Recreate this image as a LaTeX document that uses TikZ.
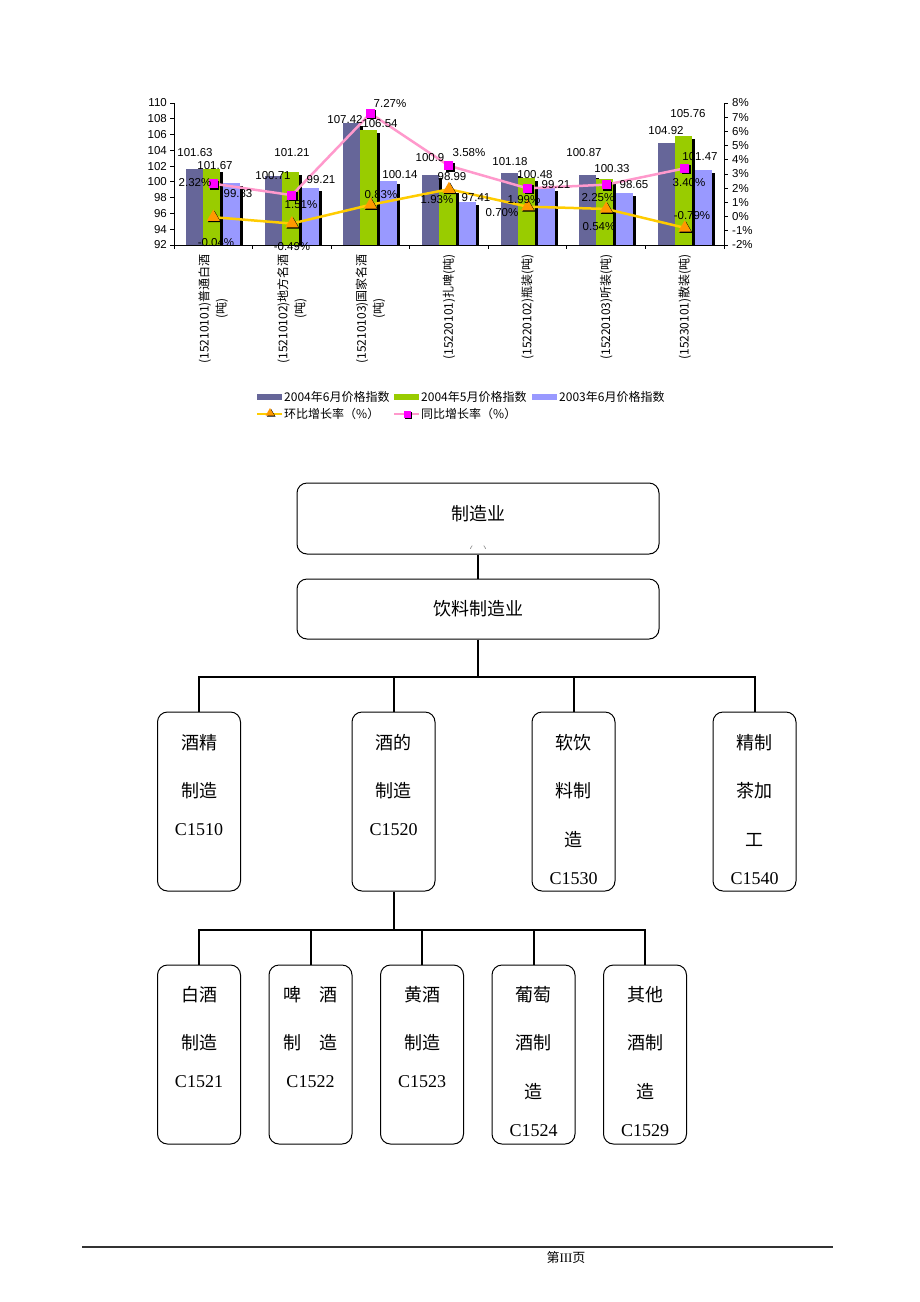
\documentclass[tikz,border=0pt]{standalone}
\usepackage{fontspec}
\setmainfont{Liberation Serif}
\newfontfamily\zhfont{Noto Sans CJK SC}
\newfontfamily\arialfont{Liberation Sans}
\usetikzlibrary{positioning, shapes.geometric, shadows}

\definecolor{barsix}{HTML}{666699}
\definecolor{barfive}{HTML}{99CC00}
\definecolor{barold}{HTML}{9999FF}
\definecolor{hbline}{HTML}{FFCC00}
\definecolor{hbmark}{HTML}{FF9900}
\definecolor{tbline}{HTML}{FF99CC}
\definecolor{tbmark}{HTML}{FF00FF}

\begin{document}
\begin{tikzpicture}[x=1pt, y=-1pt,
    numlbl/.style={font=\arialfont\fontsize{11.5}{13}\selectfont, inner sep=0pt},
    catlbl/.style={font=\zhfont\fontsize{12}{17}\selectfont, rotate=90, anchor=east, align=center, inner sep=0pt},
    leglbl/.style={font=\zhfont\fontsize{12}{14}\selectfont, anchor=west, inner sep=0pt},
    axisline/.style={draw=black, line width=0.8pt},
    hbtri/.style={regular polygon, regular polygon sides=3, inner sep=0pt, minimum size=15pt, fill=hbmark,
        drop shadow={shadow xshift=1.2pt, shadow yshift=-1.2pt, fill=black, opacity=1}},
    tbsq/.style={rectangle, inner sep=0pt, minimum size=9pt, fill=tbmark,
        drop shadow={shadow xshift=1.5pt, shadow yshift=-1.5pt, fill=black, opacity=1}},
    widebox/.style={draw, rounded corners=10pt, line width=1pt, minimum width=362pt},
    unitbox/.style={draw, rounded corners=10pt, line width=1pt, minimum width=83pt, minimum height=179pt},
    zh/.style={font=\zhfont\fontsize{18}{20}\selectfont, inner sep=0pt},
    codetxt/.style={font=\fontsize{18}{20}\selectfont, inner sep=0pt},
    conn/.style={draw=black, line width=2pt}]

\fill[white] (0,0) rectangle (920,1302);
\useasboundingbox (0,0) rectangle (920,1302);

% chart: bars and data points
\foreach \a/\b/\c/\p/\q [count=\i] in {
    101.63/101.67/99.83/-0.04/2.32,
    100.71/101.21/99.21/-0.49/1.51,
    107.42/106.54/100.14/0.83/7.27,
    100.9/98.99/97.41/1.93/3.58,
    101.18/100.48/99.21/0.70/1.99,
    100.87/100.33/98.65/0.54/2.25,
    104.92/105.76/101.47/-0.79/3.40}
{
    \pgfmathsetmacro{\cx}{174+(\i-0.5)*78.57}
    \pgfmathsetmacro{\ya}{245-(\a-92)*7.889}
    \pgfmathsetmacro{\yb}{245-(\b-92)*7.889}
    \pgfmathsetmacro{\yc}{245-(\c-92)*7.889}
    \fill[black] ({\cx-24},{\ya+3}) rectangle ({\cx-7},245);
    \fill[barsix] ({\cx-27},\ya) rectangle ({\cx-10},245);
    \fill[black] ({\cx-7},{\yb+3}) rectangle ({\cx+10},245);
    \fill[barfive] ({\cx-10},\yb) rectangle ({\cx+7},245);
    \fill[black] ({\cx+13},{\yc+3}) rectangle ({\cx+30},245);
    \fill[barold] ({\cx+10},\yc) rectangle ({\cx+27},245);
    \coordinate (hb\i) at (\cx,{245-(\p+2)*14.2});
    \coordinate (tb\i) at (\cx,{245-(\q+2)*14.2});
}

% axes
\draw[axisline] (174,103) -- (174,245) -- (724,245) -- (724,103);
\foreach \v [count=\k] in {92,94,...,110} {
    \pgfmathsetmacro{\yy}{245-(\v-92)*7.889}
    \draw[axisline] (170,\yy) -- (174,\yy);
    \node[numlbl, anchor=east] (yl\k) at (167,\yy) {\v};
}
\foreach \v [count=\k] in {-2,...,8} {
    \pgfmathsetmacro{\yy}{245-(\v+2)*14.2}
    \draw[axisline] (724,\yy) -- (728,\yy);
    \node[numlbl, anchor=west] (yr\k) at (732,\yy) {\v\%};
}
\foreach \k in {0,...,7}
    \draw[axisline] ({174+78.57*\k},245) -- ({174+78.57*\k},249);

% rate lines
\draw[hbline, line width=2.5pt] (hb1) \foreach \i in {2,...,7} {-- (hb\i)};
\draw[tbline, line width=2.5pt] (tb1) \foreach \i in {2,...,7} {-- (tb\i)};
\foreach \i in {1,...,7} {
    \node[hbtri] (hbm\i) at (hb\i) {};
    \node[tbsq] (tbm\i) at (tb\i) {};
}

% data labels
\foreach \x/\y/\t [count=\k] in {
    195/153/101.63, 215/166/101.67, 195/183/2.32\%, 238/194/99.83, 216/243/-0.04\%,
    273/176/100.71, 292/153/101.21, 321/180/99.21, 301/205/1.51\%, 292/247/-0.49\%,
    345/120/107.42, 380/124/106.54, 390/104/7.27\%, 400/175/100.14, 381/195/0.83\%,
    430/158/100.9, 469/153/3.58\%, 452/177/98.99, 437/200/1.93\%, 476/198/97.41,
    510/162/101.18, 535/175/100.48, 556/185/99.21, 524/200/1.99\%, 502/213/0.70\%,
    584/153/100.87, 612/169/100.33, 634/185/98.65, 598/198/2.25\%, 599/227/0.54\%,
    666/131/104.92, 688/114/105.76, 700/157/101.47, 689/183/3.40\%, 692/216/-0.79\%}
    \node[numlbl] (dl\k) at (\x,\y) {\t};

% category labels
\foreach \t [count=\i] in {{(15210101)普通白酒\\(吨)}, {(15210102)地方名酒\\(吨)},
    {(15210103)国家名酒\\(吨)}, {(15220101)扎啤(吨)}, {(15220102)瓶装(吨)},
    {(15220103)听装(吨)}, {(15230101)散装(吨)}}
    \node[catlbl] (cat\i) at ({174+(\i-0.5)*78.57},254) {\t};

% legend
\fill[barsix] (257,394) rectangle (282,400);
\node[leglbl] (lg1) at (284,397) {2004年6月价格指数};
\fill[barfive] (394,394) rectangle (419,400);
\node[leglbl] (lg2) at (421,397) {2004年5月价格指数};
\fill[barold] (532,394) rectangle (557,400);
\node[leglbl] (lg3) at (559,397) {2003年6月价格指数};
\draw[hbline, line width=2pt] (257,414) -- (282,414);
\node[hbtri, minimum size=10pt] (lgm4) at (270,413) {};
\node[leglbl] (lg4) at (284,414) {环比增长率（\%）};
\draw[tbline, line width=2pt] (394,414) -- (419,414);
\node[tbsq, minimum size=7pt] (lgm5) at (407,414) {};
\node[leglbl] (lg5) at (421,414) {同比增长率（\%）};

% classification tree
\node[widebox, minimum height=71pt] (mfg) at (478,518.5) {};
\node[zh] (mfgt) at ([yshift=-31pt]mfg.north) {制造业};
\begin{scope}
    \clip (455,543) rectangle (501,548);
    \node[font=\zhfont\fontsize{10}{10}\selectfont, text=gray, inner sep=0pt] (mfgsub) at (478,551) {（一）};
\end{scope}
\node[widebox, minimum height=60pt, zh] (bev) at (478,609) {饮料制造业};
\draw[conn] (mfg.south) -- (bev.north);

\foreach \n/\x/\lines/\off/\code in {
    c1510/199/{酒精,制造}/118/C1510,
    c1520/393.5/{酒的,制造}/118/C1520,
    c1530/573.5/{软饮,料制,造}/167/C1530,
    c1540/754.5/{精制,茶加,工}/167/C1540}
{
    \node[unitbox] (\n) at (\x,801.5) {};
    \foreach \t [count=\k] in \lines
        \node[zh] (\n-\k) at ([yshift={-31-48.5*(\k-1)}]\n.north) {\t};
    \node[codetxt] (\n-c) at ([yshift=-\off pt]\n.north) {\code};
}
\coordinate (bus3) at ([yshift=-37pt]bev.south);
\draw[conn] (bev.south) -- (bus3);
\foreach \n in {c1510,c1520,c1530,c1540}
    \draw[conn] (bus3) -| (\n.north);

\foreach \n/\x/\lines/\off/\code in {
    c1521/199/{白酒,制造}/117/C1521,
    c1522/310.5/{啤　酒,制　造}/117/C1522,
    c1523/422/{黄酒,制造}/117/C1523,
    c1524/533.5/{葡萄,酒制,造}/166/C1524,
    c1529/645/{其他,酒制,造}/166/C1529}
{
    \node[unitbox] (\n) at (\x,1054.5) {};
    \foreach \t [count=\k] in \lines
        \node[zh] (\n-\k) at ([yshift={-30-48.5*(\k-1)}]\n.north) {\t};
    \node[codetxt] (\n-c) at ([yshift=-\off pt]\n.north) {\code};
}
\coordinate (bus4) at ([yshift=-38pt]c1520.south);
\draw[conn] (c1520.south) -- (bus4);
\foreach \n in {c1521,c1522,c1523,c1524,c1529}
    \draw[conn] (bus4) -| (\n.north);

% page footer
\draw[black!80, line width=1.3pt] (82,1247) -- (833,1247);
\node[font=\fontsize{13}{15}\selectfont, inner sep=0pt] (page) at (566,1258) {{\zhfont 第}III{\zhfont 页}};
\end{tikzpicture}
\end{document}
